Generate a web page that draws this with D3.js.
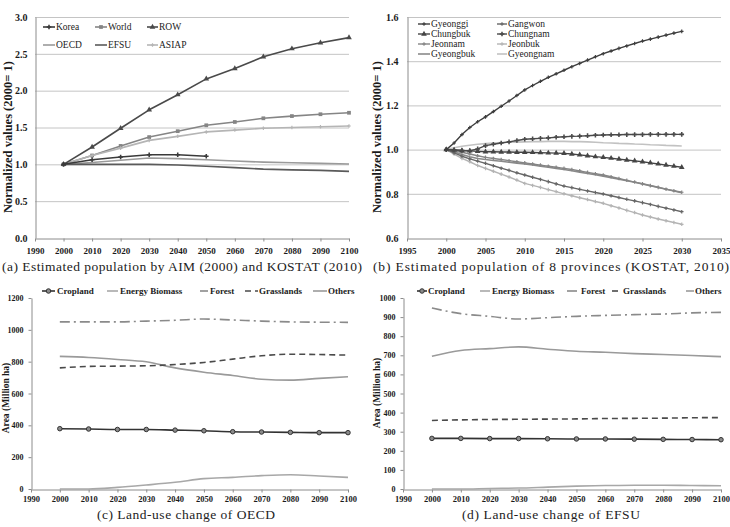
<!DOCTYPE html>
<html>
<head>
<meta charset="utf-8">
<script src="https://cdn.jsdelivr.net/npm/d3@7"></script>
<style>
  body { margin: 0; background: #fff; }
  svg { display: block; }
  text { font-family: "Liberation Serif", "Times New Roman", serif; }
</style>
</head>
<body>
<svg id="fig" width="730" height="527"></svg>
<script>
// ---- data: (a) population by region, normalized (2000 = 1)
var yearsA = [2000, 2010, 2020, 2030, 2040, 2050, 2060, 2070, 2080, 2090, 2100];
var korea = [1.00, 1.063, 1.10, 1.13, 1.13, 1.11];
var world = [1.00, 1.12, 1.25, 1.37, 1.45, 1.53, 1.575, 1.625, 1.655, 1.68, 1.70];
var row = [1.00, 1.235, 1.49, 1.74, 1.945, 2.16, 2.30, 2.46, 2.57, 2.65, 2.72];
var oecd = [1.00, 1.025, 1.055, 1.085, 1.077, 1.063, 1.045, 1.03, 1.022, 1.013, 1.005];
var efsu = [1.00, 1.00, 1.00, 1.00, 0.99, 0.975, 0.955, 0.935, 0.925, 0.918, 0.905];
var asiap = [1.00, 1.12, 1.22, 1.325, 1.38, 1.44, 1.465, 1.49, 1.50, 1.51, 1.52];

// ---- data: (b) 8 provinces, annual 2000-2030
var yearsB = [2000, 2001, 2002, 2003, 2004, 2005, 2006, 2007, 2008, 2009, 2010, 2011, 2012, 2013, 2014, 2015,
  2016, 2017, 2018, 2019, 2020, 2021, 2022, 2023, 2024, 2025, 2026, 2027, 2028, 2029, 2030];
var gyeonggi = [1.000, 1.030, 1.068, 1.100, 1.126, 1.148, 1.172, 1.196, 1.220, 1.245, 1.270, 1.290, 1.309, 1.327, 1.343, 1.359,
  1.375, 1.390, 1.405, 1.420, 1.434, 1.446, 1.458, 1.469, 1.480, 1.491, 1.500, 1.509, 1.518, 1.527, 1.535];
var gangwon = [1.000, 0.985, 0.970, 0.958, 0.948, 0.938, 0.927, 0.916, 0.906, 0.895, 0.885, 0.875, 0.865, 0.855, 0.845, 0.835,
  0.828, 0.820, 0.813, 0.806, 0.799, 0.791, 0.783, 0.775, 0.768, 0.760, 0.752, 0.743, 0.735, 0.727, 0.719];
var chungbuk = [1.000, 0.998, 0.996, 0.994, 0.992, 0.990, 0.990, 0.989, 0.989, 0.988, 0.988, 0.987, 0.986, 0.985, 0.984, 0.983,
  0.980, 0.976, 0.972, 0.968, 0.965, 0.961, 0.957, 0.953, 0.949, 0.945, 0.940, 0.935, 0.930, 0.925, 0.920];
var chungnam = [1.000, 0.998, 0.996, 0.995, 1.003, 1.018, 1.024, 1.030, 1.035, 1.041, 1.047, 1.049, 1.051, 1.053, 1.056, 1.058,
  1.060, 1.061, 1.063, 1.065, 1.066, 1.067, 1.067, 1.068, 1.068, 1.068, 1.069, 1.069, 1.069, 1.069, 1.069];
var jeonnam = [1.000, 0.995, 0.988, 0.980, 0.972, 0.965, 0.960, 0.955, 0.950, 0.945, 0.940, 0.935, 0.930, 0.925, 0.920, 0.915,
  0.910, 0.904, 0.897, 0.891, 0.885, 0.877, 0.869, 0.861, 0.853, 0.845, 0.837, 0.829, 0.821, 0.814, 0.807];
var jeonbuk = [1.000, 0.980, 0.960, 0.945, 0.928, 0.915, 0.902, 0.889, 0.876, 0.862, 0.847, 0.838, 0.829, 0.819, 0.810, 0.800,
  0.791, 0.782, 0.774, 0.765, 0.757, 0.746, 0.736, 0.725, 0.715, 0.704, 0.695, 0.686, 0.678, 0.670, 0.662];
var gyeongbuk = [1.000, 0.990, 0.978, 0.968, 0.960, 0.955, 0.951, 0.947, 0.943, 0.939, 0.935, 0.930, 0.925, 0.920, 0.915, 0.910,
  0.904, 0.898, 0.892, 0.886, 0.880, 0.873, 0.866, 0.859, 0.852, 0.845, 0.837, 0.829, 0.821, 0.813, 0.805];
var gyeongnam = [1.000, 1.008, 1.015, 1.020, 1.024, 1.027, 1.030, 1.032, 1.033, 1.034, 1.035, 1.036, 1.036, 1.037, 1.037, 1.037,
  1.036, 1.036, 1.035, 1.033, 1.031, 1.030, 1.028, 1.027, 1.025, 1.024, 1.022, 1.021, 1.019, 1.018, 1.016];

// ---- data: (c) OECD land use (Million ha)
var oecdCrop = [379, 377, 374, 374, 370, 366, 360, 358, 356, 354, 354];
var oecdBio = [0, 0, 10, 25, 42, 65, 73, 84, 90, 82, 73];
var oecdForest = [1050, 1050, 1050, 1055, 1060, 1068, 1062, 1055, 1050, 1048, 1047];
var oecdGrass = [761, 770, 772, 774, 782, 795, 816, 837, 847, 845, 841];
var oecdOthers = [833, 826, 814, 799, 761, 734, 713, 690, 684, 695, 705];

// ---- data: (d) EFSU land use (Million ha)
var efsuCrop = [265, 265, 264, 264, 263, 262, 262, 261, 260, 259, 258];
var efsuBio = [0, 0, 3, 5, 10, 15, 18, 20, 20, 18, 17];
var efsuForest = [948, 918, 904, 890, 897, 904, 909, 913, 916, 922, 925];
var efsuGrass = [359, 362, 364, 365, 366, 367, 369, 370, 371, 373, 374];
var efsuOthers = [695, 725, 735, 744, 732, 721, 716, 709, 704, 699, 693];

// ---- ticks
var xTicksA = [1990, 2000, 2010, 2020, 2030, 2040, 2050, 2060, 2070, 2080, 2090, 2100];
var yTicksA = [0, 0.5, 1.0, 1.5, 2.0, 2.5, 3.0];
var xTicksB = [1995, 2000, 2005, 2010, 2015, 2020, 2025, 2030, 2035];
var yTicksB = [0.6, 0.8, 1.0, 1.2, 1.4, 1.6];
var yTicksC = [0, 200, 400, 600, 800, 1000, 1200];
var yTicksD = [0, 100, 200, 300, 400, 500, 600, 700, 800, 900, 1000];

var svg = d3.select('#fig');
svg.append('rect').attr('width', 730).attr('height', 527).attr('fill', '#fff');

function sym(type, size) { return d3.symbol().type(type).size(size)(); }
var MK = {
  plus: sym(d3.symbolCross, 12), square: sym(d3.symbolSquare, 14), tri: sym(d3.symbolTriangle, 14),
  x: sym(d3.symbolTimes, 14), dash: sym(d3.symbolCross, 7), circle: sym(d3.symbolCircle, 16)
};

function panel(o) {
  var g = svg.append('g');
  var x = d3.scaleLinear().domain(o.xDom).range([o.x0, o.x1]);
  var y = d3.scaleLinear().domain(o.yDom).range([o.y1, o.y0]);
  if (o.grid) {
    g.append('g').selectAll('line').data(o.yTicks.filter(function (d) { return d !== o.yDom[0]; })).join('line')
      .attr('x1', o.x0).attr('x2', o.x1).attr('y1', function (d) { return y(d) + 0.5; }).attr('y2', function (d) { return y(d) + 0.5; })
      .attr('stroke', '#c4c4c4').attr('stroke-width', 1);
  }
  var xa = g.append('g').attr('transform', 'translate(0,' + (o.y1 + 0.5) + ')')
    .call(d3.axisBottom(x).tickValues(o.xTicks).tickFormat(d3.format('d')).tickSize(3).tickPadding(o.xPad).tickSizeOuter(0));
  var ya = g.append('g').attr('transform', 'translate(' + (o.x0 + 0.5) + ',0)')
    .call(d3.axisLeft(y).tickValues(o.yTicks).tickFormat(o.yFmt).tickSize(o.yTick).tickPadding(o.yPad).tickSizeOuter(0));
  [xa, ya].forEach(function (a) {
    a.attr('font-family', null);
    a.select('.domain').attr('stroke', '#8c8c8c');
    a.selectAll('.tick line').attr('stroke', '#8c8c8c');
    a.selectAll('text').attr('font-weight', 700).attr('fill', '#1a1a1a');
  });
  xa.selectAll('text').attr('font-size', o.xFont);
  ya.selectAll('text').attr('font-size', o.yFont);
  // axis title
  g.append('text').attr('transform', 'translate(' + o.titleX + ',' + o.titleY + ') rotate(-90)')
    .attr('text-anchor', 'middle').attr('font-size', o.titleFont).attr('font-weight', 700).attr('fill', '#1a1a1a').text(o.title);
  // series
  var line = d3.line().x(function (d) { return x(d[0]); }).y(function (d) { return y(d[1]); });
  if (o.smooth) line.curve(d3.curveMonotoneX);
  o.series.forEach(function (s) {
    var pts = s.v.map(function (v, i) { return [o.xs[i], v]; });
    g.append('path').datum(pts).attr('d', line).attr('fill', 'none').attr('stroke', s.c)
      .attr('stroke-width', s.w || 1.6).attr('stroke-dasharray', s.dash || null).attr('stroke-linejoin', 'round');
    if (s.m) {
      g.append('g').selectAll('path').data(pts).join('path').attr('d', MK[s.m])
        .attr('transform', function (d) { return 'translate(' + x(d[0]) + ',' + y(d[1]) + ')'; })
        .attr('fill', s.mf || s.c).attr('stroke', s.ms || 'none').attr('stroke-width', s.ms ? 1 : 0);
    }
  });
  // legend
  o.series.forEach(function (s) {
    var L = s.leg, lg = g.append('g');
    lg.append('line').attr('x1', L[0]).attr('x2', L[1]).attr('y1', L[3]).attr('y2', L[3])
      .attr('stroke', s.c).attr('stroke-width', s.w || 1.6).attr('stroke-dasharray', s.dash || null);
    if (s.m) lg.append('path').attr('d', MK[s.m]).attr('transform', 'translate(' + ((L[0] + L[1]) / 2) + ',' + L[3] + ')')
      .attr('fill', s.mf || s.c).attr('stroke', s.ms || 'none').attr('stroke-width', s.ms ? 1 : 0);
    lg.append('text').attr('x', L[2]).attr('y', L[3]).attr('dy', '0.34em').attr('font-size', o.legFont)
      .attr('font-weight', o.legBold ? 700 : 400).attr('fill', '#222').text(s.name);
  });
  // caption
  g.append('text').attr('x', o.capX).attr('y', o.capY).attr('text-anchor', 'middle').attr('font-size', 13.5)
    .attr('fill', '#222').attr('textLength', o.capW).attr('lengthAdjust', 'spacing').text(o.cap);
}

var f1 = d3.format('.1f');

panel({
  x0: 35, x1: 349, y0: 17, y1: 238, xDom: [1990, 2100], yDom: [0, 3], grid: true,
  xTicks: xTicksA, yTicks: yTicksA, yFmt: f1, xPad: 6, yPad: 8, yTick: 0, xFont: 9, yFont: 10,
  title: 'Normalized values (2000= 1)', titleX: 12, titleY: 137, titleFont: 12.5,
  xs: yearsA, legFont: 9.5, legBold: false,
  cap: '(a) Estimated population by AIM (2000) and KOSTAT (2010)', capX: 182, capY: 271, capW: 360,
  series: [
    { name: 'World', v: world, c: '#858585', m: 'square', leg: [95, 107, 108, 27] },
    { name: 'ASIAP', v: asiap, c: '#b5b5b5', m: 'dash', leg: [147, 158, 159, 45] },
    { name: 'OECD', v: oecd, c: '#9a9a9a', m: 'x', leg: [43, 55, 56, 45] },
    { name: 'EFSU', v: efsu, c: '#5a5a5a', leg: [95, 107, 108, 45] },
    { name: 'ROW', v: row, c: '#4a4a4a', m: 'tri', leg: [147, 158, 159, 27] },
    { name: 'Korea', v: korea, c: '#3a3a3a', m: 'plus', leg: [43, 55, 56, 27] }
  ]
});

panel({
  x0: 407, x1: 721, y0: 17, y1: 238, xDom: [1995, 2035], yDom: [0.6, 1.6], grid: true,
  xTicks: xTicksB, yTicks: yTicksB, yFmt: f1, xPad: 6, yPad: 9, yTick: 0, xFont: 9, yFont: 10,
  title: 'Normalized values (2000= 1)', titleX: 381, titleY: 137, titleFont: 12.5,
  xs: yearsB, legFont: 9.5, legBold: false,
  cap: '(b) Estimated population of 8 provinces (KOSTAT, 2010)', capX: 551, capY: 271, capW: 356,
  series: [
    { name: 'Gyeongnam', v: gyeongnam, c: '#c2c2c2', leg: [497, 507, 508, 54] },
    { name: 'Gyeongbuk', v: gyeongbuk, c: '#8a8a8a', leg: [418, 430, 431, 54] },
    { name: 'Jeonbuk', v: jeonbuk, c: '#b4b4b4', m: 'dash', w: 1.4, leg: [497, 507, 508, 44] },
    { name: 'Jeonnam', v: jeonnam, c: '#858585', m: 'dash', w: 1.4, leg: [418, 430, 431, 44] },
    { name: 'Gangwon', v: gangwon, c: '#666666', m: 'dash', w: 1.4, leg: [497, 507, 508, 24] },
    { name: 'Chungbuk', v: chungbuk, c: '#454545', m: 'tri', w: 1.4, leg: [418, 430, 431, 34] },
    { name: 'Chungnam', v: chungnam, c: '#4a4a4a', m: 'plus', w: 1.4, leg: [497, 507, 508, 34] },
    { name: 'Gyeonggi', v: gyeonggi, c: '#3d3d3d', m: 'dash', w: 1.4, leg: [418, 430, 431, 24] }
  ]
});

panel({
  x0: 31, x1: 348, y0: 298, y1: 489, xDom: [1990, 2100], yDom: [0, 1200], grid: false, smooth: true,
  xTicks: xTicksA, yTicks: yTicksC, yFmt: d3.format('d'), xPad: 3, yPad: 5, yTick: 3, xFont: 8.5, yFont: 8,
  title: 'Area (Million ha)', titleX: 9, titleY: 398, titleFont: 9.5,
  xs: yearsA, legFont: 9, legBold: true,
  cap: '(c) Land-use change of OECD', capX: 186, capY: 519, capW: 178,
  series: [
    { name: 'Energy Biomass', v: oecdBio, c: '#a8a8a8', leg: [107, 118, 120, 291] },
    { name: 'Others', v: oecdOthers, c: '#9a9a9a', leg: [313, 327, 328, 291] },
    { name: 'Forest', v: oecdForest, c: '#8a8a8a', dash: '10,4,2,4', leg: [200, 208, 210, 291] },
    { name: 'Grasslands', v: oecdGrass, c: '#4a4a4a', dash: '6,4', leg: [245, 258, 259, 291] },
    { name: 'Cropland', v: oecdCrop, c: '#333333', m: 'circle', mf: '#8a8a8a', ms: '#333', leg: [42, 55, 57, 291] }
  ]
});

panel({
  x0: 403, x1: 721, y0: 298, y1: 489, xDom: [1990, 2100], yDom: [0, 1000], grid: false, smooth: true,
  xTicks: xTicksA, yTicks: yTicksD, yFmt: d3.format('d'), xPad: 3, yPad: 5, yTick: 3, xFont: 8.5, yFont: 8,
  title: 'Area (Million ha)', titleX: 380, titleY: 393, titleFont: 9.5,
  xs: yearsA, legFont: 9, legBold: true,
  cap: '(d) Land-use change of EFSU', capX: 551, capY: 519, capW: 178,
  series: [
    { name: 'Energy Biomass', v: efsuBio, c: '#a8a8a8', leg: [480, 490, 492, 291] },
    { name: 'Others', v: efsuOthers, c: '#9a9a9a', leg: [686, 694, 695, 291] },
    { name: 'Forest', v: efsuForest, c: '#8a8a8a', dash: '10,4,2,4', leg: [567, 578, 581, 291] },
    { name: 'Grasslands', v: efsuGrass, c: '#4a4a4a', dash: '6,4', leg: [612, 622, 623, 291] },
    { name: 'Cropland', v: efsuCrop, c: '#333333', m: 'circle', mf: '#8a8a8a', ms: '#333', leg: [417, 427, 428, 291] }
  ]
});
</script>
</body>
</html>
